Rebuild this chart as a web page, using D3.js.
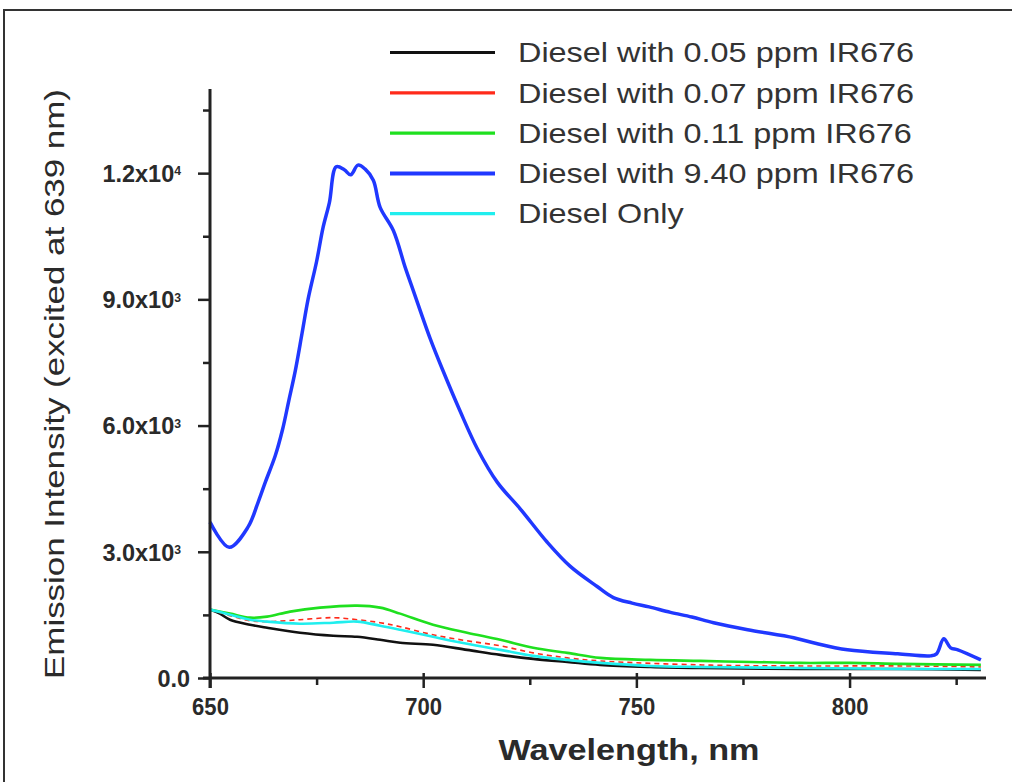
<!DOCTYPE html>
<html>
<head>
<meta charset="utf-8">
<script src="https://cdn.jsdelivr.net/npm/d3@7"></script>
<style>
body { margin: 0; background: #fff; }
text { font-family: "Liberation Sans", Arial, sans-serif; }
</style>
</head>
<body>
<svg class="chart" width="1012" height="782"></svg>
<script>
// legend entries, in drawing order of the legend
const seriesNames = [
    "Diesel with 0.05 ppm IR676",
    "Diesel with 0.07 ppm IR676",
    "Diesel with 0.11 ppm IR676",
    "Diesel with 9.40 ppm IR676",
    "Diesel Only"
]
const seriesColors = ["#111111", "#ff2a1a", "#1fe01f", "#2038ff", "#20eeee"]

// values (wavelength nm, intensity)
const wl005 = [650, 652.3, 654.7, 659.4, 663.4, 671.1, 678.9, 684.5, 689.9, 694.6, 702.3, 710.3, 718.1, 725.8, 733.8, 741.5, 753.3, 765.0, 788.5, 812.0, 830.8]
const int005 = [1625, 1530, 1386, 1267, 1195, 1076, 1004, 980, 908, 837, 789, 669, 550, 454, 382, 311, 263, 239, 215, 215, 191]

const wl007 = [650, 654.7, 659.4, 663.4, 671.1, 678.9, 684.5, 689.9, 694.6, 702.3, 710.3, 718.1, 725.8, 733.8, 741.5, 765.0, 788.5, 812.0, 830.8]
const int007 = [1625, 1482, 1362, 1339, 1386, 1434, 1386, 1315, 1219, 1028, 884, 765, 598, 478, 406, 311, 287, 287, 263]

const wl011 = [650, 654.7, 659.4, 663.4, 668.8, 675.8, 684.5, 689.9, 694.6, 702.3, 710.3, 718.1, 725.8, 733.8, 741.5, 753.3, 765.0, 776.8, 788.5, 800.2, 812.0, 830.8]
const int011 = [1625, 1530, 1434, 1458, 1578, 1673, 1721, 1673, 1530, 1267, 1076, 908, 717, 598, 478, 430, 406, 382, 359, 359, 335, 311]

const wl940 = [650, 654.5, 658.9, 661.3, 663.0, 665.3, 667.0, 668.5, 670.0, 671.6, 673.0, 675.0, 676.5, 678.0, 679.6, 681.5, 683.0, 684.7, 686.4, 688.3, 689.9, 693.0, 695.8, 697.7, 701.6, 704.7, 708.7, 712.7, 717.4, 722.8, 729.1, 734.5, 740.8, 744.6, 749.0, 753.0, 758.0, 763.0, 768.1, 776.1, 786.9, 791.5, 799.5, 811.3, 819.0, 820.4, 822.1, 823.7, 825.4, 830.8]
const int940 = [3705, 3107, 3585, 4183, 4661, 5282, 5900, 6600, 7300, 8200, 9000, 9900, 10700, 11300, 12150, 12080, 11960, 12191, 12095, 11832, 11187, 10637, 9753, 9203, 8079, 7291, 6334, 5450, 4650, 4016, 3227, 2653, 2175, 1912, 1780, 1690, 1560, 1450, 1315, 1147, 956, 837, 669, 574, 526, 574, 932, 717, 669, 430]

const wlOnly = [650, 654.7, 659.4, 663.4, 671.1, 678.9, 684.5, 689.9, 694.6, 702.3, 710.3, 718.1, 725.8, 733.8, 741.5, 753.3, 765.0, 788.5, 812.0, 830.8]
const intOnly = [1625, 1506, 1386, 1339, 1291, 1315, 1339, 1243, 1147, 980, 813, 669, 526, 430, 359, 287, 263, 239, 215, 215]

// axis ticks
const xTicks = [650, 700, 750, 800]
const xMinorTicks = [675, 725, 775, 825]
const yTicks = [0, 3000, 6000, 9000, 12000]
const yMinorTicks = [1500, 4500, 7500, 10500, 13500]
const yTickMantissa = ["0.0", "3.0x10", "6.0x10", "9.0x10", "1.2x10"]
const yTickExponent = ["", "3", "3", "3", "4"]

const seriesX = [wl005, wl007, wl011, wl940, wlOnly]
const seriesY = [int005, int007, int011, int940, intOnly]

const svg = d3.select("svg.chart")

// frame round the figure (left and top edges only show)
svg.append("path")
    .attr("d", "M4,782 L4,10 L1012,10")
    .attr("fill", "none")
    .attr("stroke", "#333")
    .attr("stroke-width", 2)

const scaleX = d3.scaleLinear()
    .domain([650, 832])
    .range([210, 986])
const scaleY = d3.scaleLinear()
    .domain([0, 14000])
    .range([678, 89])

// lines
const line = d3.line()
    .x(d => scaleX(d[0]))
    .y(d => scaleY(d[1]))
    .curve(d3.curveCatmullRom.alpha(0.5))

const order = [0, 1, 2, 3, 4]
order.forEach(i => {
    const pts = seriesX[i].map((w, k) => [w, seriesY[i][k]])
    svg.append("path")
        .datum(pts)
        .attr("d", line)
        .attr("fill", "none")
        .attr("stroke", seriesColors[i])
        .attr("stroke-width", i == 3 ? 3.5 : (i == 1 ? 1.6 : 2.6))
        .attr("stroke-dasharray", i == 1 ? "5,4" : null)
        .attr("stroke-linejoin", "round")
})

// x axis
const axisX = d3.axisBottom(scaleX)
    .tickValues(xTicks)
    .tickSizeInner(10)
    .tickSizeOuter(0)
    .tickFormat(d3.format("d"))
const axisXGroup = svg.append("g")
    .attr("transform", "translate(0, 678)")
    .call(axisX)
axisXGroup.select(".domain")
    .attr("d", "M203,0H986")
    .attr("stroke", "#222")
    .attr("stroke-width", 3)
axisXGroup.selectAll(".tick line").attr("stroke", "#222").attr("stroke-width", 2.5).attr("y1", -5)
axisXGroup.selectAll(".tick text")
    .attr("y", null)
    .attr("dy", null)
    .attr("transform", `translate(0, 37) scale(0.92, 1)`)
    .attr("fill", "#2a2a2a")
    .style("font-size", "24px")
    .style("font-weight", "bold")

const axisXMinor = d3.axisBottom(scaleX)
    .tickValues(xMinorTicks)
    .tickSizeInner(7)
    .tickSizeOuter(0)
    .tickFormat("")
svg.append("g")
    .attr("transform", "translate(0, 678)")
    .call(axisXMinor)
    .call(g => g.select(".domain").remove())
    .selectAll(".tick line").attr("stroke", "#222").attr("stroke-width", 2.5)

// y axis
const axisY = d3.axisLeft(scaleY)
    .tickValues(yTicks)
    .tickSizeInner(12)
    .tickSizeOuter(0)
    .tickFormat("")
const axisYGroup = svg.append("g")
    .attr("transform", "translate(210, 0)")
    .call(axisY)
axisYGroup.select(".domain")
    .attr("d", "M0,89V688")
    .attr("stroke", "#222")
    .attr("stroke-width", 3)
axisYGroup.selectAll(".tick line").attr("stroke", "#222").attr("stroke-width", 2.5)

axisYGroup.selectAll(".tick").each(function(d, i) {
    const label = d3.select(this).select("text")
        .attr("x", null)
        .attr("dy", "0.36em")
        .attr("text-anchor", "end")
        .attr("fill", "#2a2a2a")
        .style("font-size", "23px")
        .style("font-weight", "bold")
        .attr("transform", `translate(${yTickExponent[i] ? -29 : -20}, 0) scale(1.02, 1)`)
    label.append("tspan").text(yTickMantissa[i])
    if (yTickExponent[i]) {
        label.append("tspan")
            .attr("dy", "-0.55em")
            .style("font-size", "12px")
            .text(yTickExponent[i])
    }
})

const axisYMinor = d3.axisLeft(scaleY)
    .tickValues(yMinorTicks)
    .tickSizeInner(7)
    .tickSizeOuter(0)
    .tickFormat("")
svg.append("g")
    .attr("transform", "translate(210, 0)")
    .call(axisYMinor)
    .call(g => g.select(".domain").remove())
    .selectAll(".tick line").attr("stroke", "#222").attr("stroke-width", 2.5)

// axis titles
svg.append("text")
    .attr("transform", "translate(64, 384) rotate(-90)")
    .attr("text-anchor", "middle")
    .attr("textLength", 590)
    .attr("lengthAdjust", "spacingAndGlyphs")
    .attr("fill", "#2a2a2a")
    .style("font-size", "28px")
    .text("Emission Intensity (excited at 639 nm)")

svg.append("text")
    .attr("transform", `translate(629, 760) scale(1.14, 1)`)
    .attr("text-anchor", "middle")
    .attr("fill", "#2a2a2a")
    .style("font-size", "30px")
    .style("font-weight", "bold")
    .text("Wavelength, nm")

// legend
const legend = svg.selectAll("g.legend")
    .data(seriesNames)
    .enter()
    .append("g")
    .attr("class", "legend")
    .attr("transform", (d, i) => `translate(390, ${52.5 + i * 40.3})`)

legend.append("line")
    .attr("x1", 0)
    .attr("x2", 105)
    .attr("stroke", (d, i) => seriesColors[i])
    .attr("stroke-width", (d, i) => i == 3 ? 4 : 3.2)

legend.append("text")
    .attr("transform", `translate(128, 0) scale(1.2, 1)`)
    .attr("dy", "0.36em")
    .attr("fill", "#333")
    .style("font-size", "27px")
    .text(d => d)
</script>
</body>
</html>
